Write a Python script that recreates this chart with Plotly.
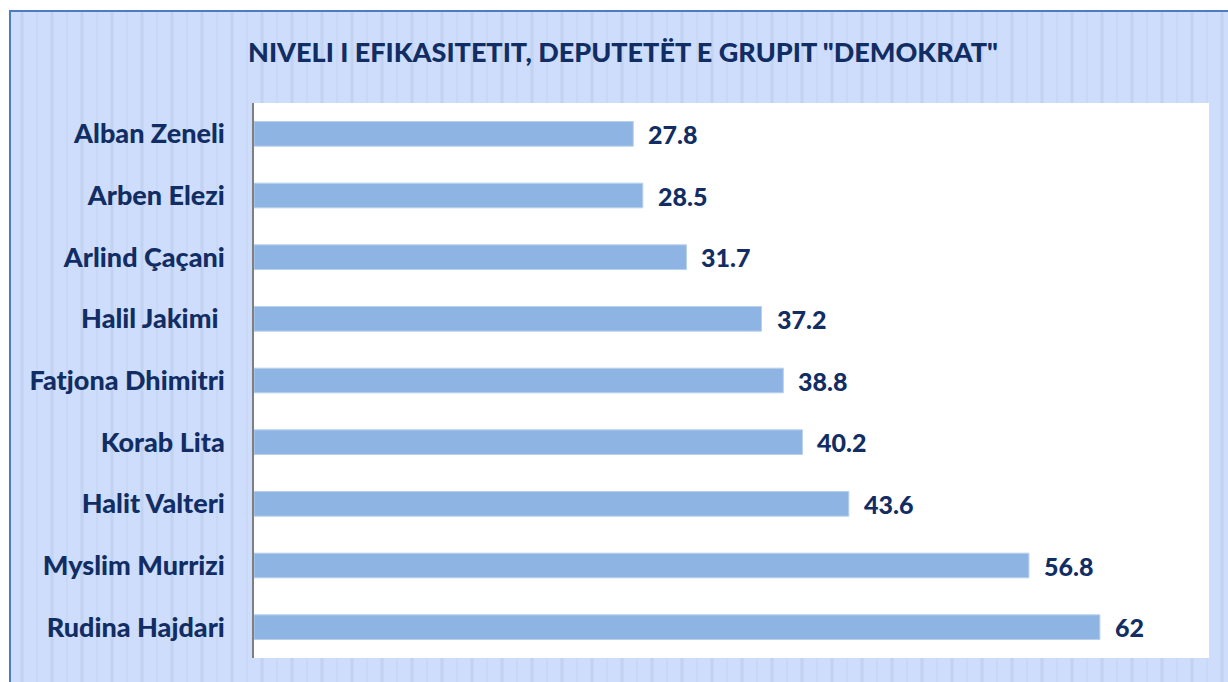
import plotly.graph_objects as go

names = ["Alban Zeneli", "Arben Elezi", "Arlind Çaçani", "Halil Jakimi ", "Fatjona Dhimitri",
         "Korab Lita", "Halit Valteri", "Myslim Murrizi", "Rudina Hajdari"]
values = [27.8, 28.5, 31.7, 37.2, 38.8, 40.2, 43.6, 56.8, 62]
labels = ["27.8", "28.5", "31.7", "37.2", "38.8", "40.2", "43.6", "56.8", "62"]
title_text = 'NIVELI I EFIKASITETIT, DEPUTETËT E GRUPIT "DEMOKRAT"'

W, H = 1228, 682
L, R, T, B = 254, 19, 103, 24
pw, ph = W - L - R, H - T - B

def px(x):
    return (x - L) / pw

def py(y):
    return (H - B - y) / ph

navy = "#112D64"
font_family = "Lato, 'Open Sans', sans-serif"

fig = go.Figure()
fig.add_trace(go.Bar(
    x=values, y=names, orientation="h",
    marker=dict(color="#8EB4E3", line=dict(color="#B8D0EE", width=1)),
    width=0.4, hoverinfo="skip",
))

shapes = []
shapes.append(dict(type="rect", xref="paper", yref="paper", layer="below",
                   x0=px(10), x1=px(W + 20), y0=py(H + 20), y1=py(11),
                   fillcolor="#CDDDFB", line=dict(color="#4F7CC0", width=2)))
k = 0
xx = 22
while xx < W:
    shapes.append(dict(type="line", xref="paper", yref="paper", layer="below",
                       x0=px(xx), x1=px(xx), y0=py(H + 20), y1=py(12),
                       line=dict(color="#C1D3F1" if k % 2 == 0 else "#C7D9F6",
                                 width=3 if k % 2 == 0 else 2)))
    xx += 15
    k += 1
shapes.append(dict(type="rect", xref="paper", yref="paper", layer="below",
                   x0=0, x1=1, y0=0, y1=1, fillcolor="white", line=dict(width=0)))

annotations = [dict(x=v, y=n, text=t, xref="x", yref="y", showarrow=False,
                    xanchor="left", xshift=13,
                    font=dict(family=font_family, size=25, color=navy, weight=900))
               for v, n, t in zip(values, names, labels)]

fig.update_layout(
    width=W, height=H,
    margin=dict(l=L, r=R, t=T, b=B),
    paper_bgcolor="white", plot_bgcolor="white",
    showlegend=False,
    shapes=shapes,
    annotations=annotations,
    title=dict(text=title_text, x=623 / W, xanchor="center", y=1 - 53 / H, yanchor="middle",
               xref="container", yref="container",
               font=dict(family=font_family, size=27, color=navy, weight=900)),
    xaxis=dict(range=[0, 70], showgrid=False, zeroline=False, showticklabels=False,
               showline=False, fixedrange=True),
    yaxis=dict(autorange="reversed", showgrid=False, zeroline=False,
               showline=True, linecolor="#7F7F7F", linewidth=1.5,
               ticks="", ticklabelstandoff=22, fixedrange=True,
               tickfont=dict(family=font_family, size=27, color=navy, weight=900)),
    bargap=0.6,
)

fig.write_html("out.html", config={"displayModeBar": False},
               post_script="document.body.style.margin='0';document.body.style.overflow='hidden';")
